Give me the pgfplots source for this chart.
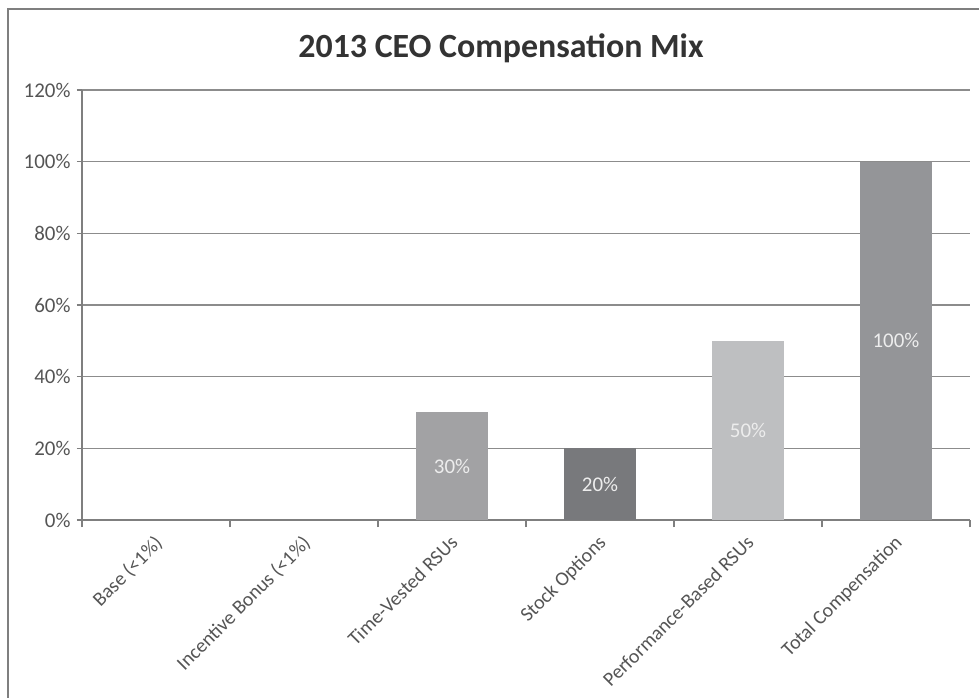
\documentclass[border=0pt]{standalone}
\usepackage{pgfplots}
\pgfplotsset{compat=1.18}
\usepackage{fontspec}
\setmainfont{Carlito}
\definecolor{cTV}{HTML}{A2A2A4}
\definecolor{cSO}{HTML}{78797C}
\definecolor{cPB}{HTML}{BEBFC1}
\definecolor{cTC}{HTML}{949598}
\definecolor{gridc}{HTML}{8C8C8C}
\definecolor{axisc}{HTML}{7F7F7F}
\definecolor{labc}{HTML}{555555}
\begin{document}
\begin{tikzpicture}
\useasboundingbox (0bp,0bp) rectangle (979bp,698bp);
\fill[white] (0bp,0bp) rectangle (979bp,698bp);
\draw[axisc, line width=1.5bp] (8bp,-20bp) -- (8bp,689bp) -- (1000bp,689bp);
\node[font=\fontsize{34}{40}\selectfont\bfseries, text=black!80] at (501bp,650bp) {2013 CEO Compensation Mix};
\begin{axis}[
  at={(82bp,178bp)}, anchor=south west,
  scale only axis, width=888bp, height=430bp,
  xmin=-0.5, xmax=5.5, ymin=0, ymax=120,
  axis x line*=bottom, axis y line*=left,
  axis line style={axisc, line width=1.2bp},
  xtick={0,1,2,3,4,5},
  xticklabels={Base (<1\%), Incentive Bonus (<1\%), Time-Vested RSUs, Stock Options, Performance-Based RSUs, Total Compensation},
  major x tick style={draw=none},
  minor xtick={-0.5,0.5,1.5,2.5,3.5,4.5,5.5},
  minor x tick style={axisc, line width=1.2bp},
  minor tick length=7bp,
  ytick={0,20,40,60,80,100,120},
  yticklabel={\pgfmathprintnumber{\tick}\%},
  major y tick style={axisc, line width=1.2bp},
  major tick length=5bp,
  tick align=outside,
  ymajorgrids, grid style={gridc, line width=1.5bp},
  /pgf/number format/assume math mode=true,
  yticklabel style={font=\fontsize{21}{25}\selectfont, text=labc, xshift=-3bp},
  xticklabel style={font=\fontsize{20}{24}\selectfont, text=labc, rotate=45, anchor=north east, xshift=-5bp, yshift=-1bp},
  bar width=0.49,
  clip=false,
]
\addplot[ybar, bar shift=0pt, fill=cTV, draw=none] coordinates {(2,30)};
\addplot[ybar, bar shift=0pt, fill=cSO, draw=none] coordinates {(3,20)};
\addplot[ybar, bar shift=0pt, fill=cPB, draw=none] coordinates {(4,50)};
\addplot[ybar, bar shift=0pt, fill=cTC, draw=none] coordinates {(5,100)};
\addplot[draw=none, mark=none, nodes near coords, point meta=explicit symbolic,
  every node near coord/.style={anchor=center, text=white!93!black, font=\fontsize{21}{25}\selectfont}]
  coordinates {(2,15)[30\%] (3,10)[20\%] (4,25)[50\%] (5,50)[100\%]};
\end{axis}
\end{tikzpicture}
\end{document}
